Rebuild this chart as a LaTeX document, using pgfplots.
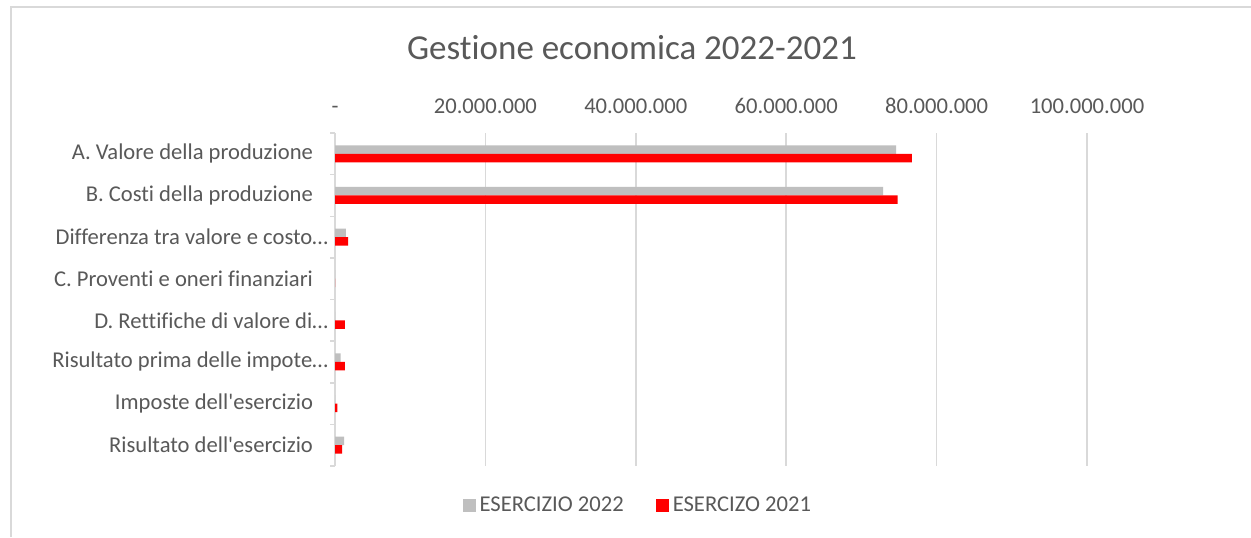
\documentclass[border=0pt]{standalone}
\usepackage{pgfplots}
\pgfplotsset{compat=1.18}
\usepackage{fontspec}
\setmainfont{Carlito}[Ligatures={TeXOff,NoCommon}]
\definecolor{txt}{HTML}{595959}
\definecolor{grd}{HTML}{D9D9D9}
\definecolor{g22}{HTML}{BFBFBF}
\definecolor{r21}{HTML}{FF0000}
\begin{document}
\begin{tikzpicture}
\useasboundingbox (0,0) rectangle (625.5pt,268.5pt);
\fill[white] (0,0) rectangle (625.5pt,268.5pt);
\draw[grd, line width=1pt] (5.5pt,0) -- (5.5pt,265pt) -- (625.5pt,265pt);
\node[txt, font=\fontsize{17.5}{20}\selectfont] at (316pt,244.5pt) {Gestione economica 2022-2021};
\begin{axis}[
 at={(167.5pt,35.5pt)}, anchor=south west,
 scale only axis, width=376pt, height=166.5pt,
 xbar, bar width=4.25pt,
 xmin=0, xmax=100000000,
 ymin=-0.5, ymax=7.5, y dir=reverse,
 axis x line*=top, axis y line*=left,
 x axis line style={draw=none},
 y axis line style={grd, line width=1pt},
 xtick={0,20000000,40000000,60000000,80000000,100000000},
 xticklabels={-,20.000.000,40.000.000,60.000.000,80.000.000,100.000.000},
 scaled x ticks=false,
 ytick={0,1,2,3,4,5,6,7},
 yticklabels={A. Valore della produzione, B. Costi della produzione, Differenza tra valore e costo…\kern-7.5pt\hbox{}, C. Proventi e oneri finanziari, D. Rettifiche di valore di…\kern-7.5pt\hbox{}, Risultato prima delle impote…\kern-7.5pt\hbox{}, Imposte dell'esercizio, Risultato dell'esercizio},
 minor ytick={-0.5,0.5,1.5,2.5,3.5,4.5,5.5,6.5,7.5},
 major tick length=0pt, minor tick length=2.5pt, tick align=outside,
 minor tick style={grd, line width=0.75pt},
 xmajorgrids, major grid style={grd, line width=0.75pt},
 ticklabel style={txt, font=\fontsize{11.3}{13}\selectfont},
 /pgf/number format/assume math mode=true,
 yticklabel style={xshift=-7.5pt},
 xticklabel style={yshift=6pt},
 legend style={at={(0.404,-0.12)}, anchor=center, draw=none, fill=none, legend columns=2,
   font=\fontsize{11.3}{13}\selectfont, text=txt,
   /tikz/every even column/.append style={column sep=14pt}},
 legend image code/.code={\path[fill, draw=none] (0pt,-3.25pt) rectangle (6.5pt,3.25pt);},
]
\addplot[fill=g22, draw=none, bar shift=2.125pt] coordinates {(74600000,0) (72900000,1) (1450000,2) (0,3) (0,4) (750000,5) (0,6) (1200000,7)};
\addplot[fill=r21, draw=none, bar shift=-2.125pt] coordinates {(76700000,0) (74800000,1) (1750000,2) (0,3) (1300000,4) (1300000,5) (300000,6) (950000,7)};
\legend{ESERCIZIO 2022, ESERCIZO 2021}
\end{axis}
\end{tikzpicture}
\end{document}
